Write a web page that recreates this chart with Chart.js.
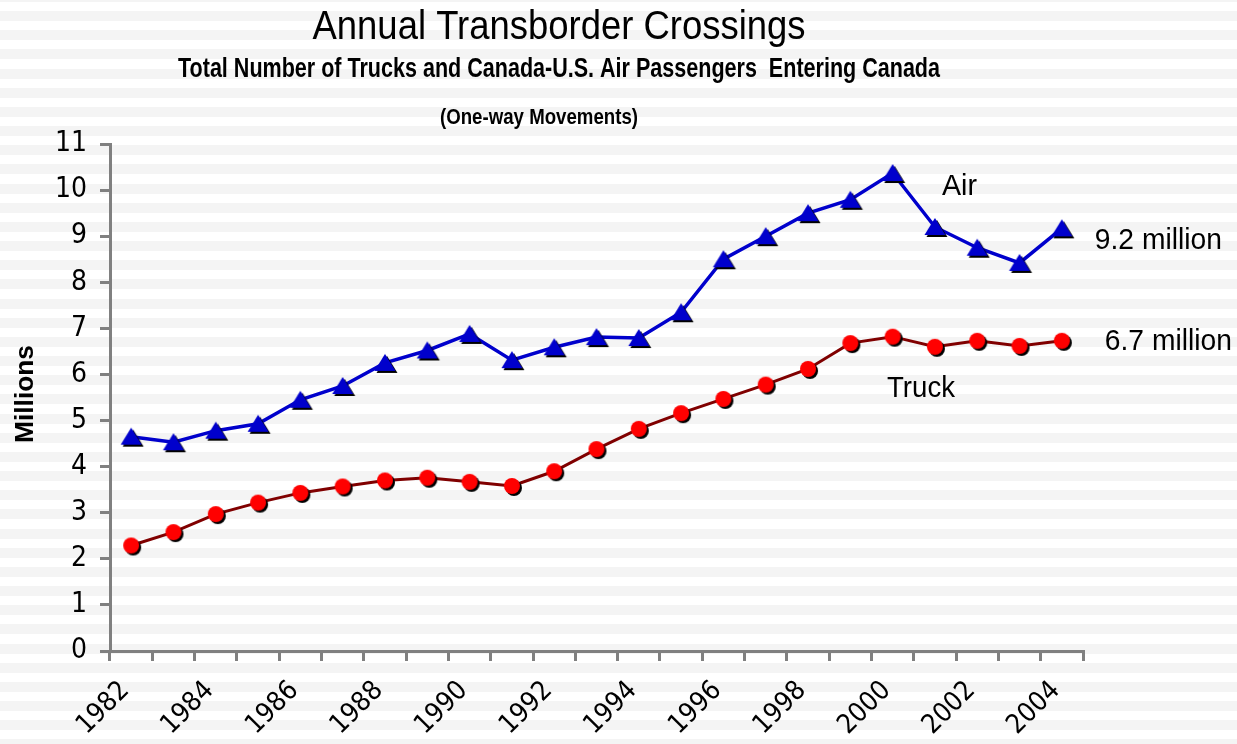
<!DOCTYPE html>
<html>
<head>
<meta charset="utf-8">
<script src="https://cdn.jsdelivr.net/npm/chart.js@4.4.1/dist/chart.umd.min.js"></script>
<style>
  html, body { margin: 0; padding: 0; background: #fff; }
  #wrap { width: 1237px; height: 744px; }
</style>
</head>
<body>
<div id="wrap"><canvas id="myChart" width="1237" height="744"></canvas></div>
<script>
// data (millions)
var years = ['1982','1983','1984','1985','1986','1987','1988','1989','1990','1991','1992','1993',
             '1994','1995','1996','1997','1998','1999','2000','2001','2002','2003','2004']
var airValues = [4.65, 4.53, 4.78, 4.93, 5.45, 5.75, 6.25, 6.52, 6.88, 6.31, 6.59, 6.81,
                 6.79, 7.35, 8.50, 9.00, 9.50, 9.79, 10.37, 9.20, 8.75, 8.42, 9.17]
var truckValues = [2.29, 2.58, 2.97, 3.22, 3.43, 3.57, 3.70, 3.76, 3.67, 3.58, 3.90, 4.38,
                   4.82, 5.16, 5.47, 5.78, 6.12, 6.68, 6.82, 6.60, 6.73, 6.62, 6.73]
var yTicks = [0, 1, 2, 3, 4, 5, 6, 7, 8, 9, 10, 11]

var SANS = '"Liberation Sans", Arial, sans-serif'
var TICKFONT = '"DejaVu Sans Condensed", "Liberation Sans", sans-serif'

// marker images with the little black drop shadow
function makeMarker(kind) {
    var c = document.createElement('canvas')
    c.width = 28; c.height = 28
    var g = c.getContext('2d')
    g.shadowColor = '#000'
    g.shadowOffsetX = 2
    g.shadowOffsetY = 2
    g.shadowBlur = 0
    g.beginPath()
    if (kind == 'circle') {
        g.fillStyle = '#ff0000'
        g.arc(14, 14, 8, 0, Math.PI * 2)
    } else {
        g.fillStyle = '#0000cc'
        g.moveTo(14, 5)
        g.lineTo(24.5, 22)
        g.lineTo(3.5, 22)
        g.closePath()
    }
    g.fill()
    return c
}

// draw text squeezed to a target width (gives the narrow look)
function fitText(ctx, text, x, y, font, width, align) {
    ctx.save()
    ctx.font = font
    var w = ctx.measureText(text).width
    var s = width / w
    var left = align == 'center' ? x - width / 2 : x
    ctx.translate(left, y)
    ctx.scale(s, 1)
    ctx.textAlign = 'left'
    ctx.textBaseline = 'alphabetic'
    ctx.fillText(text, 0, 0)
    ctx.restore()
}

var stripes = {
    id: 'stripes',
    beforeDraw: function (chart) {
        var ctx = chart.ctx
        ctx.save()
        ctx.fillStyle = '#ffffff'
        ctx.fillRect(0, 0, chart.width, chart.height)
        ctx.fillStyle = '#f4f4f4'
        for (var y = 11 - 19.17; y < chart.height; y += 19.17) {
            ctx.fillRect(0, Math.round(y), chart.width, 10)
        }
        ctx.restore()
    }
}

var labels = {
    id: 'labels',
    afterDraw: function (chart) {
        var ctx = chart.ctx
        var xs = chart.scales.x
        var ys = chart.scales.y
        var last = years.length - 1
        ctx.save()
        ctx.fillStyle = '#000'
        fitText(ctx, 'Annual Transborder Crossings', 559, 39, '40px ' + SANS, 493, 'center')
        fitText(ctx, 'Total Number of Trucks and Canada-U.S. Air Passengers  Entering Canada', 178, 77,
            'bold 27px ' + SANS, 762, 'left')
        fitText(ctx, '(One-way Movements)', 440, 124, 'bold 22px ' + SANS, 198, 'left')

        var xl = xs.getPixelForValue(last)
        fitText(ctx, '9.2 million', xl + 33, ys.getPixelForValue(airValues[last]) + 21, '30px ' + SANS, 127, 'left')
        fitText(ctx, '6.7 million', xl + 43, ys.getPixelForValue(truckValues[last]) + 9, '30px ' + SANS, 127, 'left')
        fitText(ctx, 'Air', 942, 195, '30px ' + SANS, 35, 'left')
        fitText(ctx, 'Truck', 887, 397, '30px ' + SANS, 68, 'left')

        // y axis title
        ctx.translate(33, 394)
        ctx.rotate(-Math.PI / 2)
        fitText(ctx, 'Millions', 0, 0, 'bold 25px ' + SANS, 98, 'center')
        ctx.restore()
    }
}

var ctx = document.getElementById('myChart').getContext('2d')
var myChart = new Chart(ctx, {
    type: 'line',
    data: {
        labels: years,
        datasets: [{
            label: 'Air',
            data: airValues,
            borderColor: '#0000cc',
            borderWidth: 3.5,
            pointStyle: makeMarker('triangle'),
            pointRadius: 10,
            tension: 0
        }, {
            label: 'Truck',
            data: truckValues,
            borderColor: '#800000',
            borderWidth: 3,
            pointStyle: makeMarker('circle'),
            pointRadius: 10,
            tension: 0
        }]
    },
    plugins: [stripes, labels],
    options: {
        responsive: false,
        animation: false,
        layout: { padding: { top: 144, right: 154, left: 0, bottom: 0 } },
        plugins: {
            legend: { display: false },
            title: { display: false },
            tooltip: { enabled: false }
        },
        scales: {
            x: {
                type: 'category',
                offset: true,
                afterFit: function (scale) { scale.height = 93 },
                border: { color: '#808080', width: 3 },
                grid: {
                    offset: true,
                    drawOnChartArea: false,
                    color: '#808080',
                    lineWidth: 3,
                    tickLength: 10
                },
                ticks: {
                    autoSkip: false,
                    minRotation: 45,
                    maxRotation: 45,
                    padding: 14,
                    labelOffset: -6,
                    color: '#000',
                    font: { family: TICKFONT, size: 27 },
                    callback: function (v, i) { return i % 2 == 0 ? years[i] : '' }
                }
            },
            y: {
                min: 0,
                max: 11,
                afterFit: function (scale) { scale.width = 110 },
                afterBuildTicks: function (scale) {
                    scale.ticks = yTicks.map(function (v) { return { value: v } })
                },
                border: { color: '#808080', width: 3 },
                grid: {
                    drawOnChartArea: false,
                    color: '#808080',
                    lineWidth: 3,
                    tickLength: 10
                },
                ticks: {
                    padding: 13,
                    color: '#000',
                    font: { family: TICKFONT, size: 28 }
                }
            }
        }
    }
});
</script>
</body>
</html>
